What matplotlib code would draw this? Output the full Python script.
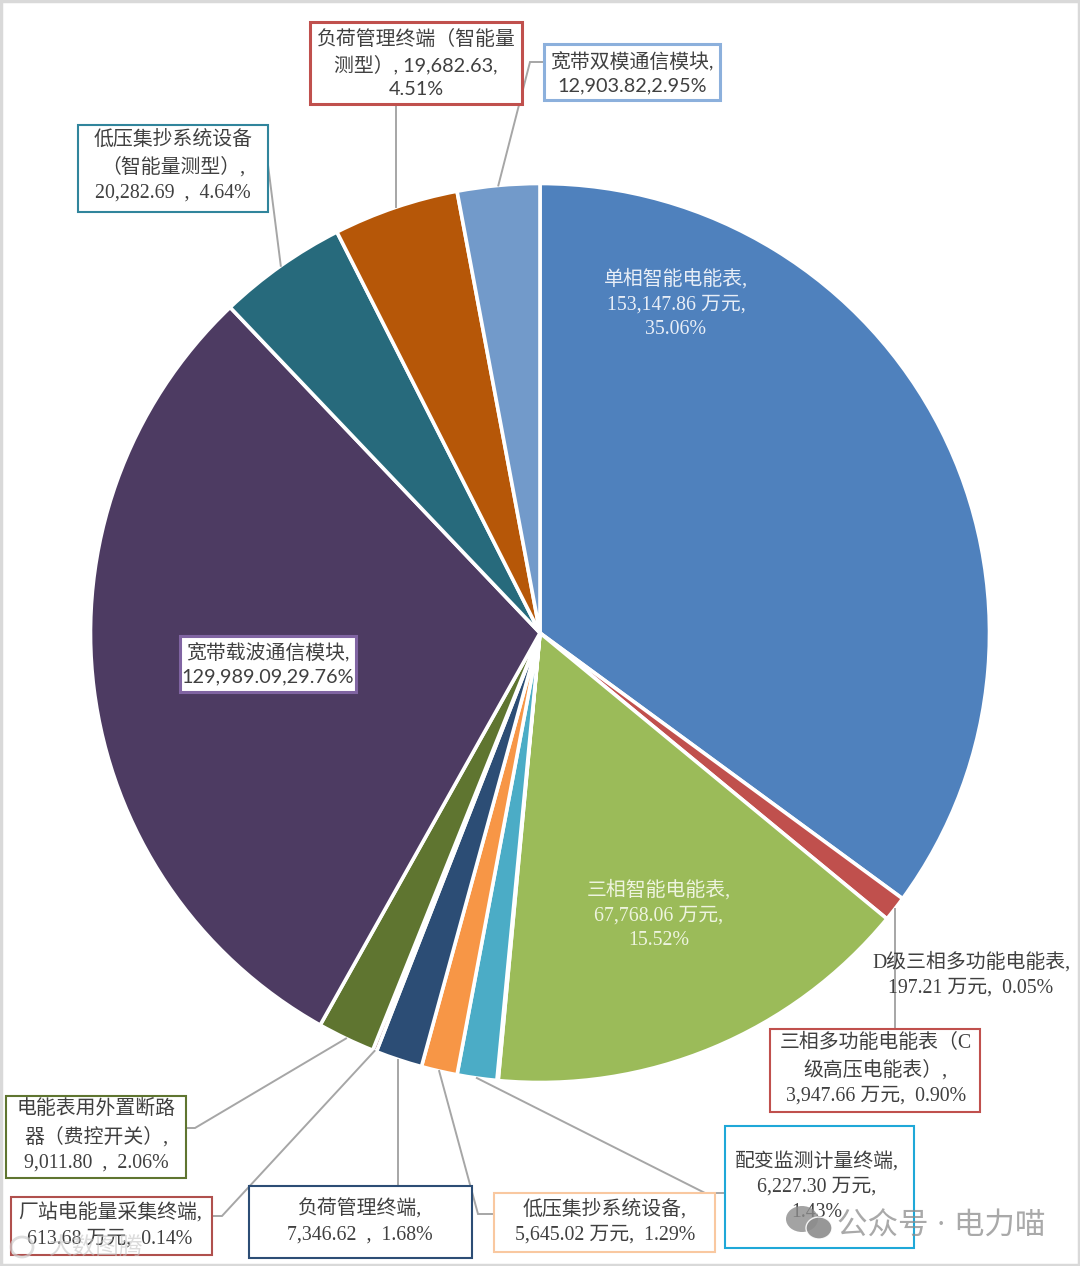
import math
import matplotlib
matplotlib.use("Agg")
import matplotlib.pyplot as plt
from matplotlib.patches import Rectangle, Ellipse

names = ["单相智能电能表", "三相多功能电能表（C级高压电能表）", "三相智能电能表", "D级三相多功能电能表",
         "配变监测计量终端", "低压集抄系统设备", "负荷管理终端", "厂站电能量采集终端",
         "电能表用外置断路器（费控开关）", "宽带载波通信模块", "低压集抄系统设备（智能量测型）",
         "负荷管理终端（智能量测型）", "宽带双模通信模块"]
values = [153147.86, 3947.66, 67768.06, 197.21, 6227.30, 5645.02, 7346.62, 613.68,
          9011.80, 129989.09, 20282.69, 19682.63, 12903.82]
colors = ["#4F81BD", "#C0504D", "#9BBB59", "#8064A2", "#4BACC6", "#F79646", "#2C4D75",
          "#772C2A", "#5F7530", "#4D3B62", "#276A7C", "#B65708", "#729ACA"]
labels = ["单相智能电能表,\n153,147.86 万元,\n35.06%",
          "三相多功能电能表（C\n级高压电能表）,\n3,947.66 万元,  0.90%",
          "三相智能电能表,\n67,768.06 万元,\n15.52%",
          "D级三相多功能电能表,\n197.21 万元,  0.05%",
          "配变监测计量终端,\n6,227.30 万元,\n1.43%",
          "低压集抄系统设备,\n5,645.02 万元,  1.29%",
          "负荷管理终端,\n7,346.62  ,  1.68%",
          "厂站电能量采集终端,\n613.68 万元,  0.14%",
          "电能表用外置断路\n器（费控开关）,\n9,011.80  ,  2.06%",
          "宽带载波通信模块,\n129,989.09,29.76%",
          "低压集抄系统设备\n（智能量测型）,\n20,282.69  ,  4.64%",
          "负荷管理终端（智能量\n测型）, 19,682.63,\n4.51%",
          "宽带双模通信模块,\n12,903.82,2.95%"]

W, H = 1080, 1266
CX, CY, R = 540, 633, 449.5
FONT = ["Liberation Serif", "Noto Sans CJK SC", "DejaVu Sans"]
FONT_SANS = ["Lato", "Noto Sans CJK SC", "DejaVu Sans"]
FS = 14.3
LS = 1.44
TXT = "#404040"

def Y(y):
    return H - y

fig = plt.figure(figsize=(W / 100, H / 100), dpi=100, facecolor="white")
ax = fig.add_axes([0, 0, 1, 1])
ax.set_xlim(0, W)
ax.set_ylim(0, H)
ax.axis("off")

wedges, _ = ax.pie(values, colors=colors, startangle=90, counterclock=False,
                   center=(CX, Y(CY)), radius=R, frame=False,
                   wedgeprops=dict(edgecolor="white", linewidth=2.6))
ax.set_xlim(0, W)
ax.set_ylim(0, H)
ax.set_aspect("auto")

total = sum(values)
def mid_point(i, r=R):
    a = (sum(values[:i]) + values[i] / 2) / total * 2 * math.pi
    return CX + r * math.sin(a), CY - r * math.cos(a)

# index: box (x0,y0,x1,y1), edge colour, edge width, text centre, leader via points
layout = {
    1: ((770, 1029, 980, 1112), "#C0504D", 1.5, (876, 1070), [(895, 1029)]),
    4: ((725, 1126, 914, 1248), "#1FA8D8", 1.5, (817, 1187), [(705, 1193), (725, 1193)]),
    5: ((494, 1193, 715, 1252), "#F9C8A0", 1.5, (605, 1222), [(478, 1214), (494, 1214)]),
    6: ((249, 1186, 472, 1258), "#2C4D75", 1.5, (360, 1222), [(398, 1186)]),
    7: ((11, 1197, 212, 1255), "#B0504D", 1.5, (110, 1226), [(222, 1216), (212, 1216)]),
    8: ((6, 1096, 186, 1178), "#5F7530", 1.5, (96, 1137), [(195, 1128), (186, 1128)]),
    10: ((78, 125, 268, 212), "#31859C", 1.5, (173, 167), [(268, 165)]),
    11: ((310, 22, 522, 104), "#C0504D", 2.2, (416, 63), [(396, 104)]),
    12: ((544, 44, 720, 100), "#8CB0DC", 2.2, (632, 73), [(530, 62), (544, 62)]),
}
sans_labels = {9, 11, 12}

for i, (box, ec, lw, tc, via) in layout.items():
    x0, y0, x1, y1 = box
    sx, sy = mid_point(i)
    if i in (1, 6, 11):
        sx = via[0][0]
    pts = [(sx, sy)] + via
    ax.plot([p[0] for p in pts], [Y(p[1]) for p in pts], color="#A6A6A6", lw=1.4, zorder=3,
            solid_joinstyle="miter")
    ax.add_patch(Rectangle((x0, Y(y1)), x1 - x0, y1 - y0, facecolor="white", edgecolor=ec,
                           linewidth=lw, zorder=4))
    ax.text(tc[0], Y(tc[1]), labels[i], ha="center", va="center", ma="center",
            family=FONT_SANS if i in sans_labels else FONT,
            fontsize=FS, color=TXT, linespacing=LS, zorder=5)

# box inside the pie
ax.add_patch(Rectangle((180, Y(692)), 176, 56, facecolor="white", edgecolor="#8064A2",
                       linewidth=2.2, zorder=4))
ax.text(268, Y(664), labels[9], ha="center", va="center", ma="center", family=FONT_SANS,
        fontsize=FS, color=TXT, linespacing=LS, zorder=5)

# unboxed labels
ax.text(676, Y(304), labels[0], ha="center", va="center", ma="center", family=FONT,
        fontsize=FS, color="#E8EEF7", linespacing=LS, zorder=5)
ax.text(659, Y(915), labels[2], ha="center", va="center", ma="center", family=FONT,
        fontsize=FS, color="#EEF4DF", linespacing=LS, zorder=5)
ax.text(971, Y(975), labels[3], ha="center", va="center", ma="center", family=FONT,
        fontsize=FS, color=TXT, linespacing=LS, zorder=5)

# watermarks
ax.text(941, Y(1227), "公众号 · 电力喵", ha="center", va="center", family=FONT, fontsize=22,
        color="#8C8C8C", alpha=0.75, zorder=6)
ax.add_patch(Ellipse((802, Y(1219)), 32, 26, facecolor="#8C8C8C", alpha=0.8, zorder=6))
ax.add_patch(Ellipse((819, Y(1228)), 26, 22, facecolor="#8C8C8C", edgecolor="white", alpha=0.9, zorder=6))
ax.text(96, Y(1248), "大数图腾", ha="center", va="center", family=FONT, fontsize=17,
        color="#C4C4C4", alpha=0.6, zorder=6)
ax.add_patch(Ellipse((22, Y(1247)), 22, 20, facecolor="none", edgecolor="#CFCFCF", alpha=0.7, linewidth=2, zorder=6))

# picture frame
ax.add_patch(Rectangle((1, 1), W - 2, H - 2, facecolor="none", edgecolor="#D9D9D9", linewidth=2.5, zorder=7))

fig.savefig("out.png", dpi=100, facecolor="white")
